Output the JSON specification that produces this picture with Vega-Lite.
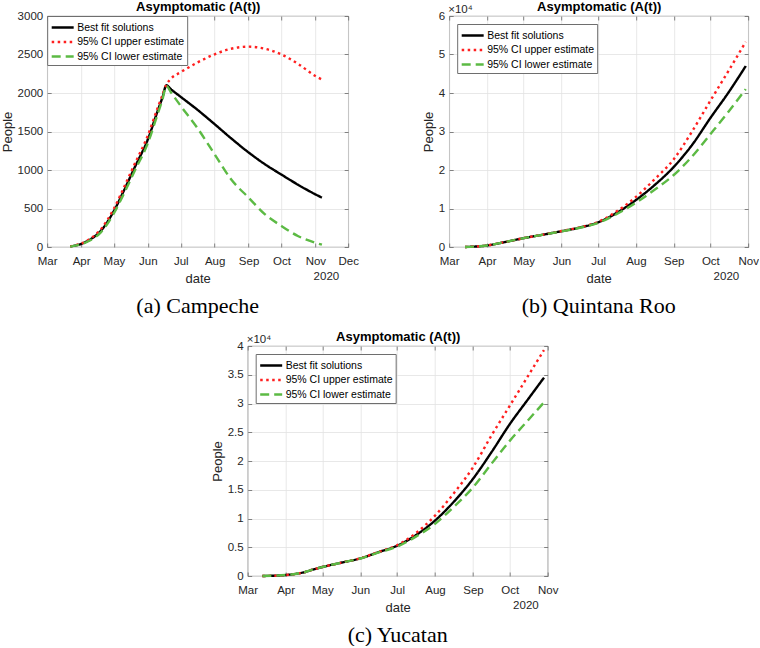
{
  "$schema": "https://vega.github.io/schema/vega-lite/v6.json",
  "padding": {"left": 0, "top": 0, "right": 0, "bottom": 0},
  "background": "white",
  "config": {
    "font": "Liberation Sans",
    "view": {"stroke": "#6e6e6e", "strokeWidth": 0.8},
    "axis": {
      "labelFont": "Liberation Sans", "labelFontSize": 11.5, "labelColor": "#262626",
      "titleFont": "Liberation Sans", "titleFontSize": 13, "titleFontWeight": "normal", "titleColor": "#262626",
      "gridColor": "#e2e2e2", "gridWidth": 0.8, "domain": false, "ticks": true, "tickSize": -4, "tickColor": "#555555", "tickWidth": 0.7
    },
    "axisX": {"labelPadding": 12, "titlePadding": 6},
    "axisY": {"labelPadding": 8.5, "titlePadding": 3},
    "title": {"font": "Liberation Serif", "fontSize": 22, "fontWeight": "normal", "color": "#000000", "orient": "bottom", "offset": 10}
  },
  "datasets": {
    "campeche": [
      {"date": "2020/03/22", "series": "Best fit solutions", "value": 8},
      {"date": "2020/04/01", "series": "Best fit solutions", "value": 40},
      {"date": "2020/04/09", "series": "Best fit solutions", "value": 95},
      {"date": "2020/04/19", "series": "Best fit solutions", "value": 210},
      {"date": "2020/05/01", "series": "Best fit solutions", "value": 470},
      {"date": "2020/05/10", "series": "Best fit solutions", "value": 730},
      {"date": "2020/05/20", "series": "Best fit solutions", "value": 1035},
      {"date": "2020/06/01", "series": "Best fit solutions", "value": 1400},
      {"date": "2020/06/10", "series": "Best fit solutions", "value": 1770},
      {"date": "2020/06/14", "series": "Best fit solutions", "value": 1930},
      {"date": "2020/06/18", "series": "Best fit solutions", "value": 2100},
      {"date": "2020/06/22", "series": "Best fit solutions", "value": 2050},
      {"date": "2020/07/01", "series": "Best fit solutions", "value": 1950},
      {"date": "2020/07/16", "series": "Best fit solutions", "value": 1785},
      {"date": "2020/08/01", "series": "Best fit solutions", "value": 1595},
      {"date": "2020/08/16", "series": "Best fit solutions", "value": 1412},
      {"date": "2020/09/01", "series": "Best fit solutions", "value": 1228},
      {"date": "2020/09/16", "series": "Best fit solutions", "value": 1074},
      {"date": "2020/10/01", "series": "Best fit solutions", "value": 940},
      {"date": "2020/10/16", "series": "Best fit solutions", "value": 810},
      {"date": "2020/11/01", "series": "Best fit solutions", "value": 684},
      {"date": "2020/11/07", "series": "Best fit solutions", "value": 641},
      {"date": "2020/03/22", "series": "95% CI upper estimate", "value": 8},
      {"date": "2020/04/01", "series": "95% CI upper estimate", "value": 45},
      {"date": "2020/04/09", "series": "95% CI upper estimate", "value": 105},
      {"date": "2020/04/19", "series": "95% CI upper estimate", "value": 230},
      {"date": "2020/05/01", "series": "95% CI upper estimate", "value": 500},
      {"date": "2020/05/10", "series": "95% CI upper estimate", "value": 770},
      {"date": "2020/05/20", "series": "95% CI upper estimate", "value": 1080},
      {"date": "2020/06/01", "series": "95% CI upper estimate", "value": 1450},
      {"date": "2020/06/10", "series": "95% CI upper estimate", "value": 1810},
      {"date": "2020/06/14", "series": "95% CI upper estimate", "value": 1960},
      {"date": "2020/06/18", "series": "95% CI upper estimate", "value": 2110},
      {"date": "2020/06/22", "series": "95% CI upper estimate", "value": 2185},
      {"date": "2020/07/01", "series": "95% CI upper estimate", "value": 2270},
      {"date": "2020/07/16", "series": "95% CI upper estimate", "value": 2394},
      {"date": "2020/08/01", "series": "95% CI upper estimate", "value": 2503},
      {"date": "2020/08/16", "series": "95% CI upper estimate", "value": 2575},
      {"date": "2020/09/01", "series": "95% CI upper estimate", "value": 2602},
      {"date": "2020/09/16", "series": "95% CI upper estimate", "value": 2575},
      {"date": "2020/10/01", "series": "95% CI upper estimate", "value": 2500},
      {"date": "2020/10/16", "series": "95% CI upper estimate", "value": 2380},
      {"date": "2020/11/01", "series": "95% CI upper estimate", "value": 2221},
      {"date": "2020/11/07", "series": "95% CI upper estimate", "value": 2175},
      {"date": "2020/03/22", "series": "95% CI lower estimate", "value": 5},
      {"date": "2020/04/01", "series": "95% CI lower estimate", "value": 35},
      {"date": "2020/04/09", "series": "95% CI lower estimate", "value": 85},
      {"date": "2020/04/19", "series": "95% CI lower estimate", "value": 190},
      {"date": "2020/05/01", "series": "95% CI lower estimate", "value": 440},
      {"date": "2020/05/10", "series": "95% CI lower estimate", "value": 690},
      {"date": "2020/05/20", "series": "95% CI lower estimate", "value": 990},
      {"date": "2020/06/01", "series": "95% CI lower estimate", "value": 1350},
      {"date": "2020/06/10", "series": "95% CI lower estimate", "value": 1730},
      {"date": "2020/06/14", "series": "95% CI lower estimate", "value": 1900},
      {"date": "2020/06/18", "series": "95% CI lower estimate", "value": 2090},
      {"date": "2020/06/22", "series": "95% CI lower estimate", "value": 2010},
      {"date": "2020/07/01", "series": "95% CI lower estimate", "value": 1832},
      {"date": "2020/07/16", "series": "95% CI lower estimate", "value": 1550},
      {"date": "2020/08/01", "series": "95% CI lower estimate", "value": 1204},
      {"date": "2020/08/16", "series": "95% CI lower estimate", "value": 879},
      {"date": "2020/09/01", "series": "95% CI lower estimate", "value": 641},
      {"date": "2020/09/16", "series": "95% CI lower estimate", "value": 424},
      {"date": "2020/10/01", "series": "95% CI lower estimate", "value": 273},
      {"date": "2020/10/16", "series": "95% CI lower estimate", "value": 143},
      {"date": "2020/11/01", "series": "95% CI lower estimate", "value": 56},
      {"date": "2020/11/07", "series": "95% CI lower estimate", "value": 30}
    ],
    "quintana": [
      {"date": "2020/03/14", "series": "Best fit solutions", "value": 0},
      {"date": "2020/04/01", "series": "Best fit solutions", "value": 400},
      {"date": "2020/04/16", "series": "Best fit solutions", "value": 1300},
      {"date": "2020/05/01", "series": "Best fit solutions", "value": 2300},
      {"date": "2020/05/16", "series": "Best fit solutions", "value": 3150},
      {"date": "2020/06/01", "series": "Best fit solutions", "value": 4100},
      {"date": "2020/06/16", "series": "Best fit solutions", "value": 5050},
      {"date": "2020/07/01", "series": "Best fit solutions", "value": 6400},
      {"date": "2020/07/16", "series": "Best fit solutions", "value": 8800},
      {"date": "2020/08/01", "series": "Best fit solutions", "value": 12200},
      {"date": "2020/08/16", "series": "Best fit solutions", "value": 16000},
      {"date": "2020/09/01", "series": "Best fit solutions", "value": 20800},
      {"date": "2020/09/16", "series": "Best fit solutions", "value": 26500},
      {"date": "2020/10/01", "series": "Best fit solutions", "value": 33500},
      {"date": "2020/10/16", "series": "Best fit solutions", "value": 40200},
      {"date": "2020/10/30", "series": "Best fit solutions", "value": 47000},
      {"date": "2020/03/14", "series": "95% CI upper estimate", "value": 0},
      {"date": "2020/04/01", "series": "95% CI upper estimate", "value": 400},
      {"date": "2020/04/16", "series": "95% CI upper estimate", "value": 1300},
      {"date": "2020/05/01", "series": "95% CI upper estimate", "value": 2300},
      {"date": "2020/05/16", "series": "95% CI upper estimate", "value": 3150},
      {"date": "2020/06/01", "series": "95% CI upper estimate", "value": 4150},
      {"date": "2020/06/16", "series": "95% CI upper estimate", "value": 5100},
      {"date": "2020/07/01", "series": "95% CI upper estimate", "value": 6500},
      {"date": "2020/07/16", "series": "95% CI upper estimate", "value": 9200},
      {"date": "2020/08/01", "series": "95% CI upper estimate", "value": 13000},
      {"date": "2020/08/16", "series": "95% CI upper estimate", "value": 17500},
      {"date": "2020/09/01", "series": "95% CI upper estimate", "value": 22800},
      {"date": "2020/09/16", "series": "95% CI upper estimate", "value": 30000},
      {"date": "2020/10/01", "series": "95% CI upper estimate", "value": 38000},
      {"date": "2020/10/16", "series": "95% CI upper estimate", "value": 45800},
      {"date": "2020/10/30", "series": "95% CI upper estimate", "value": 53300},
      {"date": "2020/03/14", "series": "95% CI lower estimate", "value": 0},
      {"date": "2020/04/01", "series": "95% CI lower estimate", "value": 400},
      {"date": "2020/04/16", "series": "95% CI lower estimate", "value": 1300},
      {"date": "2020/05/01", "series": "95% CI lower estimate", "value": 2300},
      {"date": "2020/05/16", "series": "95% CI lower estimate", "value": 3150},
      {"date": "2020/06/01", "series": "95% CI lower estimate", "value": 4050},
      {"date": "2020/06/16", "series": "95% CI lower estimate", "value": 5000},
      {"date": "2020/07/01", "series": "95% CI lower estimate", "value": 6250},
      {"date": "2020/07/16", "series": "95% CI lower estimate", "value": 8500},
      {"date": "2020/08/01", "series": "95% CI lower estimate", "value": 11500},
      {"date": "2020/08/16", "series": "95% CI lower estimate", "value": 14800},
      {"date": "2020/09/01", "series": "95% CI lower estimate", "value": 18700},
      {"date": "2020/09/16", "series": "95% CI lower estimate", "value": 23500},
      {"date": "2020/10/01", "series": "95% CI lower estimate", "value": 29300},
      {"date": "2020/10/16", "series": "95% CI lower estimate", "value": 35200},
      {"date": "2020/10/30", "series": "95% CI lower estimate", "value": 41000}
    ],
    "yucatan": [
      {"date": "2020/03/13", "series": "Best fit solutions", "value": 0},
      {"date": "2020/04/01", "series": "Best fit solutions", "value": 170},
      {"date": "2020/04/10", "series": "Best fit solutions", "value": 400},
      {"date": "2020/04/17", "series": "Best fit solutions", "value": 700},
      {"date": "2020/04/23", "series": "Best fit solutions", "value": 1100},
      {"date": "2020/04/29", "series": "Best fit solutions", "value": 1450},
      {"date": "2020/05/15", "series": "Best fit solutions", "value": 2250},
      {"date": "2020/06/01", "series": "Best fit solutions", "value": 3060},
      {"date": "2020/06/16", "series": "Best fit solutions", "value": 4160},
      {"date": "2020/07/01", "series": "Best fit solutions", "value": 5260},
      {"date": "2020/07/16", "series": "Best fit solutions", "value": 7050},
      {"date": "2020/08/01", "series": "Best fit solutions", "value": 9650},
      {"date": "2020/08/16", "series": "Best fit solutions", "value": 12830},
      {"date": "2020/09/01", "series": "Best fit solutions", "value": 16900},
      {"date": "2020/09/16", "series": "Best fit solutions", "value": 21500},
      {"date": "2020/10/01", "series": "Best fit solutions", "value": 26400},
      {"date": "2020/10/16", "series": "Best fit solutions", "value": 30750},
      {"date": "2020/10/29", "series": "Best fit solutions", "value": 34500},
      {"date": "2020/03/13", "series": "95% CI upper estimate", "value": 0},
      {"date": "2020/04/01", "series": "95% CI upper estimate", "value": 170},
      {"date": "2020/04/10", "series": "95% CI upper estimate", "value": 400},
      {"date": "2020/04/17", "series": "95% CI upper estimate", "value": 700},
      {"date": "2020/04/23", "series": "95% CI upper estimate", "value": 1100},
      {"date": "2020/04/29", "series": "95% CI upper estimate", "value": 1450},
      {"date": "2020/05/15", "series": "95% CI upper estimate", "value": 2250},
      {"date": "2020/06/01", "series": "95% CI upper estimate", "value": 3080},
      {"date": "2020/06/16", "series": "95% CI upper estimate", "value": 4200},
      {"date": "2020/07/01", "series": "95% CI upper estimate", "value": 5350},
      {"date": "2020/07/16", "series": "95% CI upper estimate", "value": 7400},
      {"date": "2020/08/01", "series": "95% CI upper estimate", "value": 10500},
      {"date": "2020/08/16", "series": "95% CI upper estimate", "value": 14300},
      {"date": "2020/09/01", "series": "95% CI upper estimate", "value": 18900},
      {"date": "2020/09/16", "series": "95% CI upper estimate", "value": 24400},
      {"date": "2020/10/01", "series": "95% CI upper estimate", "value": 29600},
      {"date": "2020/10/16", "series": "95% CI upper estimate", "value": 34800},
      {"date": "2020/10/29", "series": "95% CI upper estimate", "value": 39300},
      {"date": "2020/03/13", "series": "95% CI lower estimate", "value": 0},
      {"date": "2020/04/01", "series": "95% CI lower estimate", "value": 170},
      {"date": "2020/04/10", "series": "95% CI lower estimate", "value": 400},
      {"date": "2020/04/17", "series": "95% CI lower estimate", "value": 700},
      {"date": "2020/04/23", "series": "95% CI lower estimate", "value": 1100},
      {"date": "2020/04/29", "series": "95% CI lower estimate", "value": 1450},
      {"date": "2020/05/15", "series": "95% CI lower estimate", "value": 2250},
      {"date": "2020/06/01", "series": "95% CI lower estimate", "value": 3040},
      {"date": "2020/06/16", "series": "95% CI lower estimate", "value": 4100},
      {"date": "2020/07/01", "series": "95% CI lower estimate", "value": 5100},
      {"date": "2020/07/16", "series": "95% CI lower estimate", "value": 6800},
      {"date": "2020/08/01", "series": "95% CI lower estimate", "value": 9070},
      {"date": "2020/08/16", "series": "95% CI lower estimate", "value": 11960},
      {"date": "2020/09/01", "series": "95% CI lower estimate", "value": 15400},
      {"date": "2020/09/16", "series": "95% CI lower estimate", "value": 19500},
      {"date": "2020/10/01", "series": "95% CI lower estimate", "value": 23500},
      {"date": "2020/10/16", "series": "95% CI lower estimate", "value": 27100},
      {"date": "2020/10/29", "series": "95% CI lower estimate", "value": 30200}
    ]
  },
  "vconcat": [
    {
      "hconcat": [
        {
          "width": 301, "height": 231,
          "title": {"text": "(a) Campeche"},
          "layer": [
            {
              "data": {"name": "campeche"},
              "mark": {"type": "line", "interpolate": "monotone", "strokeWidth": 2.4},
              "encoding": {
                "x": {"field": "date", "type": "temporal", "scale": {"domain": [{"year": 2020, "month": 3, "date": 1}, {"year": 2020, "month": 12, "date": 1}]}, "axis": {"title": "date", "format": "%b", "tickCount": {"interval": "month", "step": 1}, "labelOverlap": false, "labelFlush": false}},
                "y": {"field": "value", "type": "quantitative", "scale": {"domain": [0, 3000], "nice": false}, "axis": {"title": "People", "values": [0, 500, 1000, 1500, 2000, 2500, 3000], "format": "d"}},
                "color": {"field": "series", "type": "nominal", "scale": {"domain": ["Best fit solutions", "95% CI upper estimate", "95% CI lower estimate"], "range": ["#000000", "#ff1f1f", "#5cba44"]}, "legend": {"orient": "top-left", "offset": 0, "title": null, "fillColor": "white", "strokeColor": "#6e6e6e", "padding": 3, "symbolType": "M-1.57,0H1.57", "symbolSize": 196, "symbolStrokeWidth": 2.4, "symbolOffset": 4, "labelOffset": 6, "labelFontSize": 10.5, "labelColor": "#000000", "rowPadding": 0.5, "labelLimit": 300}},
                "strokeDash": {"field": "series", "type": "nominal", "scale": {"domain": ["Best fit solutions", "95% CI upper estimate", "95% CI lower estimate"], "range": [[1, 0], [2.5, 3.5], [9, 5]]}, "legend": {"orient": "top-left", "offset": 0, "title": null}}
              }
            },
            {
              "data": {"values": [{"date": "2020/12/01", "value": 0, "label": "2020"}]},
              "mark": {"type": "text", "align": "right", "baseline": "top", "dx": -9, "dy": 24, "fontSize": 11.5, "color": "#262626"},
              "encoding": {
                "x": {"field": "date", "type": "temporal", "axis": {"orient": "top", "labels": false, "grid": false, "tickCount": {"interval": "month", "step": 1}, "title": "Asymptomatic (A(t))", "titleFontWeight": "bold", "titleFontSize": 13, "titleColor": "#000000", "titlePadding": 2}},
                "y": {"field": "value", "type": "quantitative", "axis": {"orient": "right", "labels": false, "grid": false, "title": null, "values": [0, 500, 1000, 1500, 2000, 2500, 3000]}},
                "text": {"field": "label"}
              }
            }
          ],
          "resolve": {"axis": {"x": "independent", "y": "independent"}}
        },
        {
          "width": 299, "height": 231,
          "title": {"text": "(b) Quintana Roo"},
          "layer": [
            {
              "data": {"name": "quintana"},
              "mark": {"type": "line", "interpolate": "monotone", "strokeWidth": 2.4},
              "encoding": {
                "x": {"field": "date", "type": "temporal", "scale": {"domain": [{"year": 2020, "month": 3, "date": 1}, {"year": 2020, "month": 11, "date": 1}]}, "axis": {"title": "date", "format": "%b", "tickCount": {"interval": "month", "step": 1}, "labelOverlap": false, "labelFlush": false}},
                "y": {"field": "value", "type": "quantitative", "scale": {"domain": [0, 60000], "nice": false}, "axis": {"title": "People", "values": [0, 10000, 20000, 30000, 40000, 50000, 60000], "labelExpr": "datum.value / 10000"}},
                "color": {"field": "series", "type": "nominal", "scale": {"domain": ["Best fit solutions", "95% CI upper estimate", "95% CI lower estimate"], "range": ["#000000", "#ff1f1f", "#5cba44"]}, "legend": {"orient": "top-left", "offset": 8, "title": null, "fillColor": "white", "strokeColor": "#6e6e6e", "padding": 3, "symbolType": "M-1.57,0H1.57", "symbolSize": 196, "symbolStrokeWidth": 2.4, "symbolOffset": 4, "labelOffset": 6, "labelFontSize": 10.5, "labelColor": "#000000", "rowPadding": 0.5, "labelLimit": 300}},
                "strokeDash": {"field": "series", "type": "nominal", "scale": {"domain": ["Best fit solutions", "95% CI upper estimate", "95% CI lower estimate"], "range": [[1, 0], [2.5, 3.5], [9, 5]]}, "legend": {"orient": "top-left", "offset": 8, "title": null}}
              }
            },
            {
              "data": {"values": [{"date": "2020/11/01", "value": 0, "label": "2020"}]},
              "mark": {"type": "text", "align": "right", "baseline": "top", "dx": -9, "dy": 24, "fontSize": 11.5, "color": "#262626"},
              "encoding": {
                "x": {"field": "date", "type": "temporal", "axis": {"orient": "top", "labels": false, "grid": false, "tickCount": {"interval": "month", "step": 1}, "title": "Asymptomatic (A(t))", "titleFontWeight": "bold", "titleFontSize": 13, "titleColor": "#000000", "titlePadding": 2}},
                "y": {"field": "value", "type": "quantitative", "axis": {"orient": "right", "labels": false, "grid": false, "title": null, "values": [0, 10000, 20000, 30000, 40000, 50000, 60000]}},
                "text": {"field": "label"}
              }
            },
            {
              "data": {"values": [{"date": "2020/03/01", "value": 60000, "label": "×10⁴"}]},
              "mark": {"type": "text", "align": "left", "baseline": "bottom", "dx": -1, "dy": -1, "fontSize": 11.5, "color": "#262626"},
              "encoding": {
                "x": {"field": "date", "type": "temporal", "axis": null},
                "y": {"field": "value", "type": "quantitative", "axis": null},
                "text": {"field": "label"}
              }
            }
          ],
          "resolve": {"axis": {"x": "independent", "y": "independent"}}
        }
      ],
      "spacing": 62,
      "resolve": {"scale": {"color": "independent", "strokeDash": "independent"}, "legend": {"color": "independent", "strokeDash": "independent"}}
    },
    {
      "width": 300, "height": 230,
      "title": {"text": "(c) Yucatan"},
      "layer": [
        {
          "data": {"name": "yucatan"},
          "mark": {"type": "line", "interpolate": "monotone", "strokeWidth": 2.4},
          "encoding": {
            "x": {"field": "date", "type": "temporal", "scale": {"domain": [{"year": 2020, "month": 3, "date": 1}, {"year": 2020, "month": 11, "date": 1}]}, "axis": {"title": "date", "format": "%b", "tickCount": {"interval": "month", "step": 1}, "labelOverlap": false, "labelFlush": false}},
            "y": {"field": "value", "type": "quantitative", "scale": {"domain": [0, 40000], "nice": false}, "axis": {"title": "People", "values": [0, 5000, 10000, 15000, 20000, 25000, 30000, 35000, 40000], "labelExpr": "datum.value / 10000"}},
            "color": {"field": "series", "type": "nominal", "scale": {"domain": ["Best fit solutions", "95% CI upper estimate", "95% CI lower estimate"], "range": ["#000000", "#ff1f1f", "#5cba44"]}, "legend": {"orient": "top-left", "offset": 8, "title": null, "fillColor": "white", "strokeColor": "#6e6e6e", "padding": 3, "symbolType": "M-1.57,0H1.57", "symbolSize": 196, "symbolStrokeWidth": 2.4, "symbolOffset": 4, "labelOffset": 6, "labelFontSize": 10.5, "labelColor": "#000000", "rowPadding": 0.5, "labelLimit": 300}},
            "strokeDash": {"field": "series", "type": "nominal", "scale": {"domain": ["Best fit solutions", "95% CI upper estimate", "95% CI lower estimate"], "range": [[1, 0], [2.5, 3.5], [9, 5]]}, "legend": {"orient": "top-left", "offset": 8, "title": null}}
          }
        },
        {
          "data": {"values": [{"date": "2020/11/01", "value": 0, "label": "2020"}]},
          "mark": {"type": "text", "align": "right", "baseline": "top", "dx": -9, "dy": 24, "fontSize": 11.5, "color": "#262626"},
          "encoding": {
            "x": {"field": "date", "type": "temporal", "axis": {"orient": "top", "labels": false, "grid": false, "tickCount": {"interval": "month", "step": 1}, "title": "Asymptomatic (A(t))", "titleFontWeight": "bold", "titleFontSize": 13, "titleColor": "#000000", "titlePadding": 2}},
            "y": {"field": "value", "type": "quantitative", "axis": {"orient": "right", "labels": false, "grid": false, "title": null, "values": [0, 5000, 10000, 15000, 20000, 25000, 30000, 35000, 40000]}},
            "text": {"field": "label"}
          }
        },
        {
          "data": {"values": [{"date": "2020/03/01", "value": 40000, "label": "×10⁴"}]},
          "mark": {"type": "text", "align": "left", "baseline": "bottom", "dx": -1, "dy": -1, "fontSize": 11.5, "color": "#262626"},
          "encoding": {
            "x": {"field": "date", "type": "temporal", "axis": null},
            "y": {"field": "value", "type": "quantitative", "axis": null},
            "text": {"field": "label"}
          }
        }
      ],
      "resolve": {"axis": {"x": "independent", "y": "independent"}}
    }
  ],
  "spacing": 13,
  "center": true,
  "resolve": {"scale": {"color": "independent", "strokeDash": "independent"}, "legend": {"color": "independent", "strokeDash": "independent"}}
}
